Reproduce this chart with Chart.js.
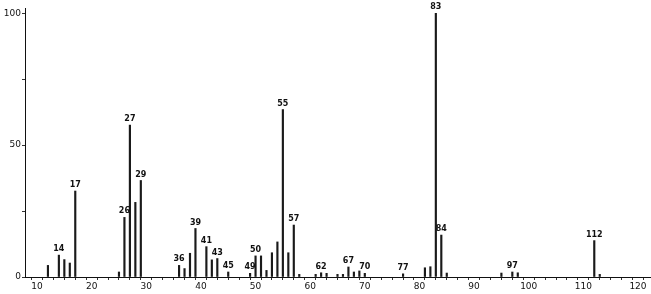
<!DOCTYPE html>
<html>
<head>
<meta charset="UTF-8" />
<title>Mass spectrum</title>
<script src="https://cdn.jsdelivr.net/npm/chart.js"></script>
<style>
  html, body { margin: 0; padding: 0; background: #fff; }
  #wrap { width: 651px; height: 294px; position: relative; }
</style>
</head>
<body>
<div id="wrap"><canvas id="spectrum"></canvas></div>
<script>
// m/z values and relative intensities
const masses = [12, 14, 15, 16, 17, 25, 26, 27, 28, 29, 36, 37, 38, 39, 41, 42, 43, 45, 49, 50, 51, 52, 53, 54, 55, 56, 57, 58, 61, 62, 63, 65, 66, 67, 68, 69, 70, 77, 81, 82, 83, 84, 85, 95, 97, 98, 112, 113];
const intensities = [4.4, 8.3, 6.6, 5.3, 32.6, 1.9, 22.6, 57.6, 28.3, 36.6, 4.4, 3.2, 9.0, 18.4, 11.5, 6.5, 7.0, 1.9, 1.4, 8.0, 8.0, 2.5, 9.2, 13.3, 63.5, 9.2, 19.7, 1.0, 1.0, 1.6, 1.4, 1.0, 1.0, 3.8, 1.9, 2.3, 1.4, 1.2, 3.5, 3.9, 100, 15.9, 1.5, 1.5, 1.9, 1.6, 13.8, 1.0];
// peaks that carry a number above them
const labelledPeaks = [14, 17, 26, 27, 29, 36, 39, 41, 43, 45, 49, 50, 55, 57, 62, 67, 70, 77, 83, 84, 97, 112];
const xTickLabels = [10, 20, 30, 40, 50, 60, 70, 80, 90, 100, 110, 120];
const yTickLabels = [0, 50, 100];

const FONT = "DejaVu Sans";

const peakLabels = {
  id: "peakLabels",
  afterDatasetsDraw(chart) {
    const ctx = chart.ctx;
    const xs = chart.scales.x, ys = chart.scales.y;
    ctx.save();
    ctx.fillStyle = "#111";
    ctx.font = "bold 8px '" + FONT + "'";
    ctx.textAlign = "center";
    ctx.textBaseline = "bottom";
    labelledPeaks.forEach(m => {
      const i = masses.indexOf(m);
      if (i < 0) return;
      ctx.fillText(String(m), xs.getPixelForValue(m), ys.getPixelForValue(intensities[i]) - 2);
    });
    ctx.restore();
  }
};

new Chart(document.getElementById("spectrum"), {
  type: "bar",
  data: {
    datasets: [{
      data: masses.map((m, i) => ({ x: m, y: intensities[i] })),
      backgroundColor: "#1a1a1a",
      barThickness: 1.5,
      borderWidth: 0
    }]
  },
  options: {
    responsive: true,
    maintainAspectRatio: false,
    animation: false,
    layout: { padding: { top: 8, right: 1, left: 0, bottom: 0 } },
    plugins: { legend: { display: false }, tooltip: { enabled: false } },
    scales: {
      x: {
        type: "linear",
        min: 7.8,
        max: 122.2,
        offset: false,
        afterBuildTicks(scale) {
          const t = [];
          for (let v = 8; v <= 122; v += 2) t.push({ value: v });
          scale.ticks = t;
        },
        afterFit(scale) { scale.height = 17; },
        ticks: {
          autoSkip: false,
          maxRotation: 0,
          padding: 1,
          color: "#111",
          font: { family: FONT, size: 9 },
          callback: v => xTickLabels.includes(v) ? String(v) : ""
        },
        grid: { drawOnChartArea: false, tickLength: 3, color: "#222", tickColor: "#333" },
        border: { color: "#111", width: 1 }
      },
      y: {
        min: 0,
        max: 102,
        afterBuildTicks(scale) {
          scale.ticks = [0, 25, 50, 75, 100].map(v => ({ value: v }));
        },
        afterFit(scale) { scale.width = 25; },
        ticks: {
          autoSkip: false,
          padding: 1,
          color: "#111",
          font: { family: FONT, size: 9 },
          callback: v => yTickLabels.includes(v) ? String(v) : ""
        },
        grid: { drawOnChartArea: false, tickLength: 3, tickColor: "#333" },
        border: { color: "#111", width: 1 }
      }
    }
  },
  plugins: [peakLabels]
});
</script>
</body>
</html>
